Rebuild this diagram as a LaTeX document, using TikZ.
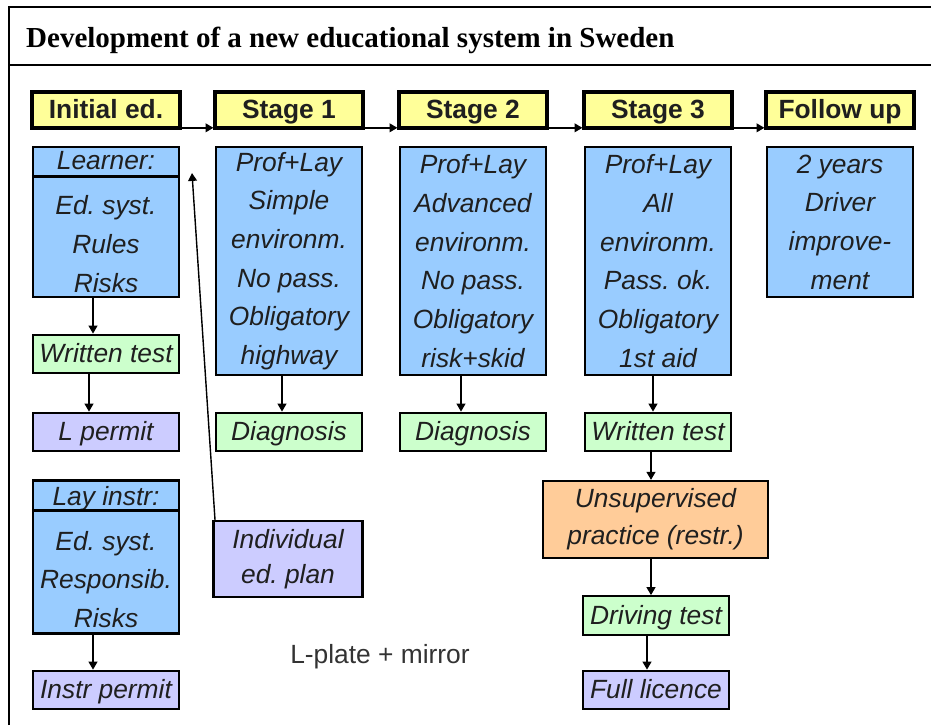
\documentclass[tikz,border=0pt]{standalone}
\usepackage{fontspec}
\setmainfont{Liberation Serif}
\setsansfont{Liberation Sans}
\frenchspacing
\usetikzlibrary{arrows.meta}
\definecolor{hdryel}{HTML}{FFFF99}
\definecolor{infoblue}{HTML}{99CCFF}
\definecolor{tstgreen}{HTML}{CCFFCC}
\definecolor{prmlilac}{HTML}{CCCCFF}
\definecolor{unsorange}{HTML}{FFCC99}
\tikzset{
  box/.style={draw, line width=1.3pt, minimum width=2.92cm, align=center, inner sep=0pt,
    text=black!88, font=\sffamily\itshape\fontsize{15}{22}\selectfont},
  oneline/.style={text height=10.7pt, text depth=1pt},
  hdr/.style={box, oneline, fill=hdryel, line width=1.8pt, minimum width=2.96cm, minimum height=0.72cm,
    font=\sffamily\bfseries\fontsize{15}{18}\selectfont},
  info/.style={box, fill=infoblue},
  tst/.style={box, oneline, fill=tstgreen, minimum height=0.77cm},
  prm/.style={box, oneline, fill=prmlilac, minimum height=0.77cm},
  flow/.style={-{Triangle[length=4.5pt,width=5pt]}, line width=0.8pt},
}
\begin{document}
\begin{tikzpicture}[x=0.02cm,y=-0.02cm]
  \useasboundingbox (0,0) rectangle (931,725);
  \fill[white] (0,0) rectangle (931,725);
  \draw[line width=1.1pt] (9,725) -- (9,7) -- (931,7);
  \draw[line width=0.8pt] (9,65) -- (931,65);
  \node[anchor=base west, font=\rmfamily\bfseries\fontsize{16.5}{20}\selectfont] (ttl) at (20,47)
    {Development of a new educational system in Sweden};

  % stages along the top
  \node[hdr] (ini) at (106,110) {Initial ed.};
  \node[hdr] (st1) at (289,110) {Stage 1};
  \node[hdr] (st2) at (473,110) {Stage 2};
  \node[hdr] (st3) at (658,110) {Stage 3};
  \node[hdr] (fol) at (840,110) {Follow up};
  \foreach \a/\b in {ini/st1,st1/st2,st2/st3,st3/fol}
    \draw[flow] ([yshift=1pt]\a.south east) -- ([yshift=1pt]\b.south west);

  % initial education
  \node[info, minimum height=3cm] (lrn) at (106,222) {Learner:\\[3.5pt]Ed. syst.\\Rules\\Risks};
  \draw[line width=1.6pt] ([yshift=-0.62cm]lrn.north west) -- ([yshift=-0.62cm]lrn.north east);
  \node[tst] (wt1) at (106,354) {Written test};
  \node[prm] (lpm) at (106,432) {L permit};
  \node[info, minimum height=3.06cm] (lay) at (106,557) {Lay instr:\\[3.5pt]Ed. syst.\\Responsib.\\Risks};
  \draw[line width=1.6pt] ([yshift=-0.62cm]lay.north west) -- ([yshift=-0.62cm]lay.north east);
  \node[prm] (ipm) at (106,690) {Instr permit};
  \draw[flow] ([xshift=-0.26cm]lrn.south) -- ([xshift=-0.26cm]wt1.north);
  \draw[flow] ([xshift=-0.34cm]wt1.south) -- ([xshift=-0.34cm]lpm.north);
  \draw[flow] ([xshift=-0.26cm]lay.south) -- ([xshift=-0.26cm]ipm.north);

  % stage 1
  \node[info, minimum height=4.56cm] (bx1) at (289,261)
    {Prof+Lay\\Simple\\environm.\\No pass.\\Obligatory\\highway};
  \node[tst] (dg1) at (289,432) {Diagnosis};
  \node[prm, minimum width=2.98cm, minimum height=1.52cm, text height=, text depth=,
    font=\sffamily\itshape\fontsize{15}{20}\selectfont] (pln) at (288,559) {Individual\\ed. plan};
  \draw[flow] ([xshift=-0.14cm]bx1.south) -- ([xshift=-0.14cm]dg1.north);
  \coordinate (ret) at (192,173);
  \draw[flow] ([xshift=1.5pt]pln.north west) -- (ret);

  % stage 2
  \node[info, minimum height=4.56cm] (bx2) at (473,261)
    {Prof+Lay\\Advanced\\environm.\\No pass.\\Obligatory\\risk+skid};
  \node[tst] (dg2) at (473,432) {Diagnosis};
  \draw[flow] ([xshift=-0.24cm]bx2.south) -- ([xshift=-0.24cm]dg2.north);

  % stage 3
  \node[info, minimum height=4.56cm] (bx3) at (658,261)
    {Prof+Lay\\All\\environm.\\Pass. ok.\\Obligatory\\1st aid};
  \node[tst] (wt3) at (658,432) {Written test};
  \node[box, fill=unsorange, minimum width=4.5cm, minimum height=1.54cm, font=\sffamily\itshape\fontsize{15}{21}\selectfont]
    (uns) at (655.5,519.5) {Unsupervised\\practice (restr.)};
  \node[tst] (drv) at (656,615.5) {Driving test};
  \node[prm] (ful) at (656,690) {Full licence};
  \draw[flow] (bx3.south -| 653,0) -- (wt3.north -| 653,0);
  \draw[flow] (wt3.south -| 651,0) -- (uns.north -| 651,0);
  \draw[flow] (uns.south -| 651,0) -- (drv.north -| 651,0);
  \draw[flow] (drv.south -| 647,0) -- (ful.north -| 647,0);

  % follow up
  \node[info, minimum height=3cm] (bx4) at (840,222) {2 years\\Driver\\improve-\\ment};

  \node[font=\sffamily\fontsize{15}{18}\selectfont, text=black!80] (lpl) at (380,657) {L-plate + mirror};
\end{tikzpicture}
\end{document}
